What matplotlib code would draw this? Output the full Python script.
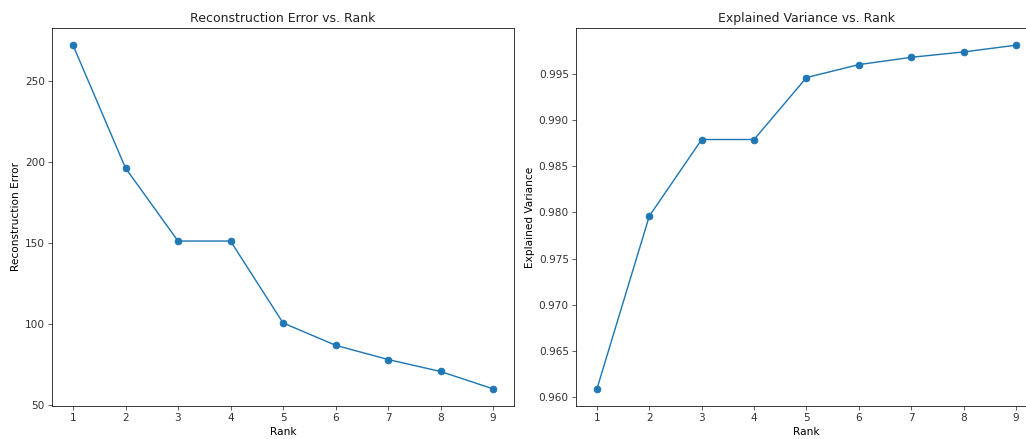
import matplotlib
matplotlib.use("Agg")
import matplotlib.pyplot as plt

ranks = [1, 2, 3, 4, 5, 6, 7, 8, 9]
recon_error = [272.2, 196.3, 151.2, 151.2, 100.6, 86.8, 78.0, 70.6, 59.9]
explained_var = [0.96091, 0.97960, 0.98787, 0.98787, 0.99457, 0.99597, 0.99676, 0.99734, 0.99807]

plt.rcParams['font.size'] = 11
plt.rcParams['xtick.major.size'] = 4
plt.rcParams['ytick.major.size'] = 4
plt.rcParams['text.color'] = '#222222'
plt.rcParams['xtick.color'] = '#333333'
plt.rcParams['ytick.color'] = '#333333'

dpi = 68.4
fig = plt.figure(figsize=(1026 / dpi, 439 / dpi), dpi=dpi)

ax1 = fig.add_axes([0.0507, 0.0752, 0.4503, 0.861])
ax1.plot(ranks, recon_error, marker='o', markersize=7)
ax1.set_xlabel("Rank")
ax1.set_ylabel("Reconstruction Error")
ax1.set_title("Reconstruction Error vs. Rank")
ax1.set_xticks(ranks)

ax2 = fig.add_axes([0.5614, 0.0752, 0.4493, 0.861])
ax2.plot(ranks, explained_var, marker='o', markersize=7)
ax2.set_xlabel("Rank")
ax2.set_ylabel("Explained Variance")
ax2.set_title("Explained Variance vs. Rank")
ax2.set_xticks(ranks)

fig.savefig("out.png", dpi=dpi)
